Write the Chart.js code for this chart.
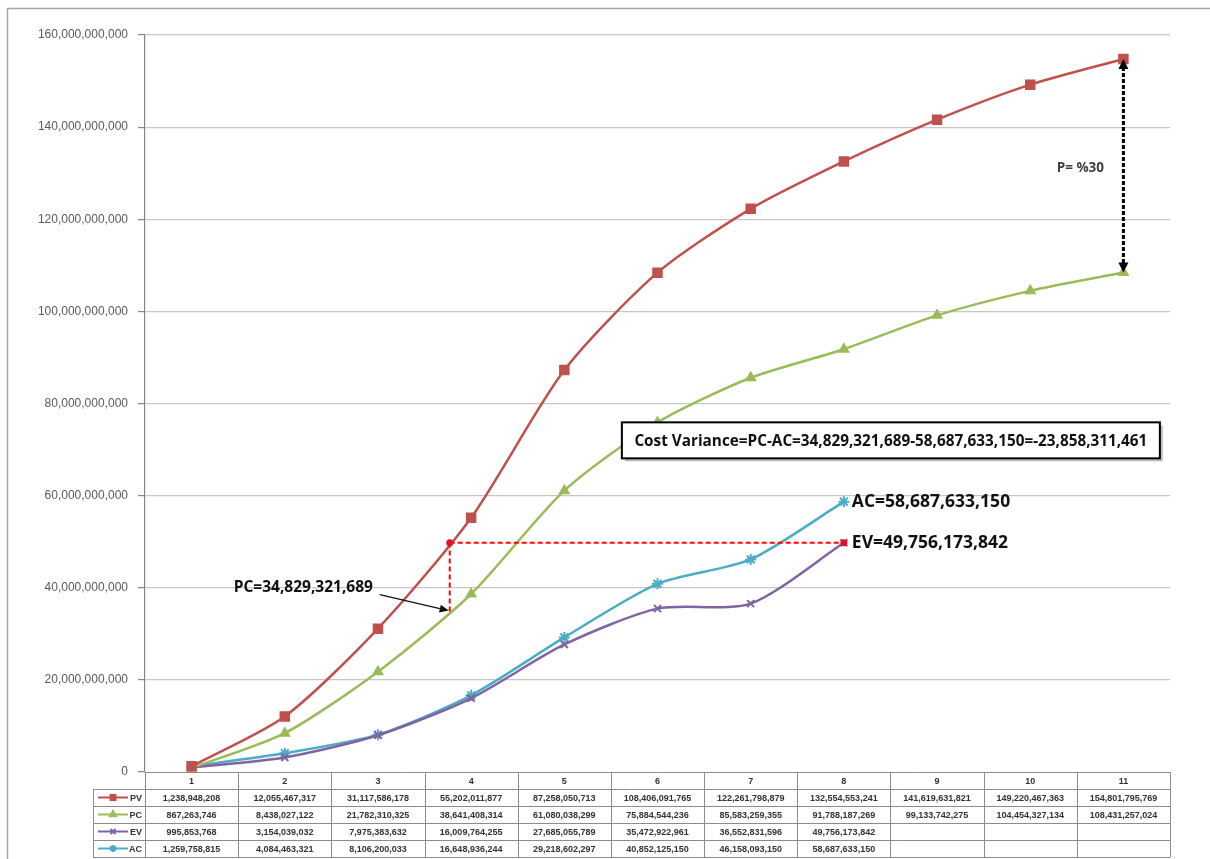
<!DOCTYPE html>
<html>
<head>
<meta charset="utf-8">
<title>PV / PC / EV / AC</title>
<script src="https://cdn.jsdelivr.net/npm/chart.js@4.4.1/dist/chart.umd.min.js"></script>
<style>
  html, body { margin: 0; padding: 0; background: #ffffff; }
  #wrap { width: 1210px; height: 859px; position: relative; }
</style>
</head>
<body>
<div id="wrap"><canvas id="c" width="1210" height="859"></canvas></div>
<script>
// Periods
const periods = ['1', '2', '3', '4', '5', '6', '7', '8', '9', '10', '11'];

// Cumulative values per period
const pv = [1238948208, 12055467317, 31117586178, 55202011877, 87258050713, 108406091765,
            122261798879, 132554553241, 141619631821, 149220467363, 154801795769];
const pc = [867263746, 8438027122, 21782310325, 38641408314, 61080038299, 75884544236,
            85583259355, 91788187269, 99133742275, 104454327134, 108431257024];
const ev = [995853768, 3154039032, 7975383632, 16009764255, 27685055789, 35472922961,
            36552831596, 49756173842, null, null, null];
const ac = [1259758815, 4084463321, 8106200033, 16648936244, 29218602297, 40852125150,
            46158093150, 58687633150, null, null, null];

// Y axis ticks
const yTicks = [0, 20e9, 40e9, 60e9, 80e9, 100e9, 120e9, 140e9, 160e9];

// Status point values used in the notes
const pcAtStatus = 34829321689;
const statusPos = 2.77;  // position on the period axis where PC reaches pcAtStatus
const reportIndex = 7;   // period 8
const finalIndex = 10;   // period 11
const costVariance = pcAtStatus - ac[reportIndex];

const seriesNames = ['PV', 'PC', 'EV', 'AC'];
const seriesColors = ['#C0504D', '#9BBB59', '#8064A2', '#4BACC6'];
const seriesMarkers = ['rect', 'triangle', 'crossRot', 'star'];
const seriesRadius = [6, 5, 5, 5.5];

const fmt = v => v.toLocaleString('en-US');

function makeSet(i, data) {
  return {
    label: seriesNames[i],
    data: data,
    borderColor: seriesColors[i],
    backgroundColor: seriesColors[i],
    borderWidth: 2.5,
    pointStyle: seriesMarkers[i],
    pointRadius: seriesRadius[i],
    pointBorderWidth: 2,
    pointBorderColor: seriesColors[i],
    pointBackgroundColor: seriesColors[i],
    tension: 0.25,
    spanGaps: false
  };
}

function drawArrow(ctx, x1, y1, x2, y2, color, w, head) {
  const a = Math.atan2(y2 - y1, x2 - x1);
  ctx.save();
  ctx.strokeStyle = color; ctx.fillStyle = color; ctx.lineWidth = w;
  ctx.beginPath(); ctx.moveTo(x1, y1);
  ctx.lineTo(x2 - head * Math.cos(a), y2 - head * Math.sin(a)); ctx.stroke();
  ctx.beginPath();
  ctx.moveTo(x2, y2);
  ctx.lineTo(x2 - head * Math.cos(a) + 4 * Math.sin(a), y2 - head * Math.sin(a) - 4 * Math.cos(a));
  ctx.lineTo(x2 - head * Math.cos(a) - 4 * Math.sin(a), y2 - head * Math.sin(a) + 4 * Math.cos(a));
  ctx.closePath(); ctx.fill();
  ctx.restore();
}

// Notes drawn over the plot: status lines, arrows and value labels
const notesPlugin = {
  id: 'notes',
  afterDatasetsDraw(chart) {
    const ctx = chart.ctx;
    const x = chart.scales.x, y = chart.scales.y;
    const xs = x.getPixelForValue(statusPos);
    const xr = x.getPixelForValue(reportIndex);
    const xf = x.getPixelForValue(finalIndex);
    const yPc = y.getPixelForValue(pcAtStatus);
    const yEv = y.getPixelForValue(ev[reportIndex]);
    const yAc = y.getPixelForValue(ac[reportIndex]);

    ctx.save();
    // red dashed status lines
    ctx.strokeStyle = '#FF0000';
    ctx.lineWidth = 2;
    ctx.setLineDash([5, 3]);
    ctx.beginPath();
    ctx.moveTo(xs, yPc); ctx.lineTo(xs, yEv);
    ctx.moveTo(xs, yEv); ctx.lineTo(xr, yEv);
    ctx.stroke();
    ctx.setLineDash([]);
    ctx.fillStyle = '#E8101A';
    [[xs, yEv], [xr, yEv]].forEach(p => {
      ctx.beginPath(); ctx.arc(p[0], p[1], 3.5, 0, Math.PI * 2); ctx.fill();
    });

    // PC label with arrow
    ctx.font = 'bold 15.5px "Open Sans", sans-serif';
    ctx.fillStyle = '#111';
    ctx.textBaseline = 'middle';
    ctx.textAlign = 'left';
    ctx.fillText('PC=' + fmt(pcAtStatus), xs - 216, yPc - 24);
    drawArrow(ctx, xs - 70, yPc - 17, xs - 1, yPc - 1, '#111', 1.3, 9);

    // AC and EV labels
    ctx.font = 'bold 17.5px "Open Sans", sans-serif';
    ctx.fillText('AC=' + fmt(ac[reportIndex]), xr + 8, yAc);
    ctx.fillText('EV=' + fmt(ev[reportIndex]), xr + 8, yEv);

    // Cost variance box
    const boxText = 'Cost Variance=PC-AC=' + fmt(pcAtStatus) + '-' + fmt(ac[reportIndex]) + '=' + fmt(costVariance);
    const bx = xr + 47;
    const by = y.getPixelForValue(72e9);
    const bw = 538, bh = 36;
    ctx.fillStyle = 'rgba(0,0,0,0.25)';
    ctx.fillRect(bx - bw / 2 + 3, by - bh / 2 + 3, bw, bh);
    ctx.fillStyle = '#fff';
    ctx.fillRect(bx - bw / 2, by - bh / 2, bw, bh);
    ctx.strokeStyle = '#000';
    ctx.lineWidth = 2;
    ctx.strokeRect(bx - bw / 2, by - bh / 2, bw, bh);
    ctx.fillStyle = '#111';
    ctx.textAlign = 'center';
    ctx.font = 'bold 15.3px "Open Sans", sans-serif';
    ctx.fillText(boxText, bx, by + 1);

    // Final gap between PV and PC
    const yTop = y.getPixelForValue(pv[finalIndex]);
    const yBot = y.getPixelForValue(pc[finalIndex]);
    ctx.strokeStyle = '#000';
    ctx.lineWidth = 3;
    ctx.setLineDash([4, 2]);
    ctx.beginPath();
    ctx.moveTo(xf, yTop + 8); ctx.lineTo(xf, yBot - 8);
    ctx.stroke();
    ctx.setLineDash([]);
    ctx.fillStyle = '#000';
    ctx.beginPath();
    ctx.moveTo(xf, yTop); ctx.lineTo(xf - 5, yTop + 10); ctx.lineTo(xf + 5, yTop + 10); ctx.closePath(); ctx.fill();
    ctx.beginPath();
    ctx.moveTo(xf, yBot); ctx.lineTo(xf - 5, yBot - 10); ctx.lineTo(xf + 5, yBot - 10); ctx.closePath(); ctx.fill();

    ctx.font = 'bold 13.5px "Open Sans", sans-serif';
    ctx.fillStyle = '#404040';
    ctx.textAlign = 'center';
    ctx.fillText('P= %30', xf - 43, y.getPixelForValue(131e9));
    ctx.restore();
  }
};

// Data table beneath the category axis, plus the outer frame
const tablePlugin = {
  id: 'dataTable',
  afterDraw(chart) {
    const ctx = chart.ctx;
    const area = chart.chartArea;
    const x = chart.scales.x;
    const left = area.left, right = area.right, top = area.bottom;
    const headH = 17, rowH = 17;
    const legendLeft = 93;
    const colW = (right - left) / periods.length;
    const rows = [pv, pc, ev, ac];

    ctx.save();
    ctx.strokeStyle = '#8c8c8c';
    ctx.lineWidth = 1;
    ctx.beginPath();
    ctx.moveTo(left, top + 0.5); ctx.lineTo(right, top + 0.5);
    for (let r = 0; r <= rows.length; r++) {
      const yy = Math.round(top + headH + r * rowH) + 0.5;
      ctx.moveTo(legendLeft, yy); ctx.lineTo(right, yy);
    }
    for (let c = 0; c <= periods.length; c++) {
      const xx = Math.round(left + c * colW) + 0.5;
      ctx.moveTo(xx, top); ctx.lineTo(xx, top + headH + rows.length * rowH);
    }
    ctx.moveTo(legendLeft + 0.5, top + headH); ctx.lineTo(legendLeft + 0.5, top + headH + rows.length * rowH);
    ctx.stroke();

    // header labels
    ctx.fillStyle = '#333';
    ctx.textAlign = 'center';
    ctx.textBaseline = 'middle';
    ctx.font = 'bold 9px "Liberation Sans", sans-serif';
    periods.forEach((p, i) => ctx.fillText(p, x.getPixelForValue(i), top + headH / 2 + 1));

    // values
    ctx.font = 'bold 9px "Liberation Sans", sans-serif';
    rows.forEach((row, r) => {
      const yy = top + headH + r * rowH + rowH / 2 + 1;
      row.forEach((v, i) => {
        if (v !== null) ctx.fillText(fmt(v), x.getPixelForValue(i), yy);
      });
    });

    // legend keys
    rows.forEach((row, r) => {
      const yy = top + headH + r * rowH + rowH / 2;
      const col = seriesColors[r];
      ctx.strokeStyle = col; ctx.fillStyle = col; ctx.lineWidth = 2;
      ctx.beginPath(); ctx.moveTo(legendLeft + 5, yy); ctx.lineTo(legendLeft + 35, yy); ctx.stroke();
      Chart.helpers.drawPoint(ctx, {
        pointStyle: seriesMarkers[r], radius: 3.5, rotation: 0, borderWidth: 1.5
      }, legendLeft + 20, yy);
      ctx.fillStyle = '#333';
      ctx.textAlign = 'right';
      ctx.fillText(seriesNames[r], left - 3, yy + 1);
    });

    // outer frame
    ctx.strokeStyle = '#a6a6a6';
    ctx.lineWidth = 1.5;
    ctx.strokeRect(7.5, 8.5, 1215, 870);
    ctx.restore();
  }
};

new Chart(document.getElementById('c'), {
  type: 'line',
  data: {
    labels: periods,
    datasets: [makeSet(0, pv), makeSet(1, pc), makeSet(2, ev), makeSet(3, ac)]
  },
  options: {
    responsive: false,
    animation: false,
    events: [],
    layout: { padding: { left: 0, right: 40, top: 35, bottom: 87 } },
    plugins: { legend: { display: false }, tooltip: { enabled: false } },
    scales: {
      x: {
        type: 'category',
        display: false,
        offset: true
      },
      y: {
        min: 0,
        max: 160e9,
        afterBuildTicks(scale) { scale.ticks = yTicks.map(v => ({ value: v })); },
        afterFit(scale) { scale.width = 145; },
        ticks: {
          color: '#595959',
          font: { family: '"Liberation Sans", sans-serif', size: 12 },
          padding: 10,
          callback: v => fmt(v)
        },
        grid: {
          color: ctx => ctx.tick && ctx.tick.value === 0 ? 'rgba(0,0,0,0)' : '#c6c6c6',
          lineWidth: 1.2,
          tickLength: 7,
          tickColor: '#868686',
          drawTicks: true
        },
        border: { display: true, color: '#868686', width: 1.2 }
      }
    }
  },
  plugins: [notesPlugin, tablePlugin]
});
</script>
</body>
</html>
